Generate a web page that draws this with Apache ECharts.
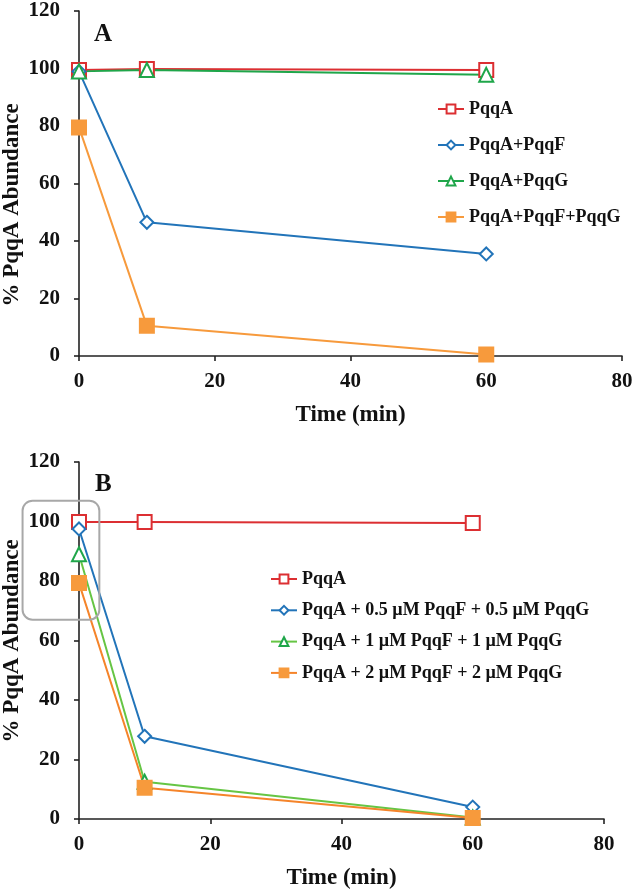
<!DOCTYPE html>
<html>
<head>
<meta charset="utf-8">
<script src="https://cdn.jsdelivr.net/npm/echarts@6/dist/echarts.min.js"></script>
<style>
html,body{margin:0;padding:0;background:#fff;}
#chart{width:633px;height:889px;}
</style>
</head>
<body>
<div id="chart"></div>
<script>
// ---- data ----
const timePoints = [0, 10, 60];
const xTicks = [0, 20, 40, 60, 80];
const yTicks = [0, 20, 40, 60, 80, 100, 120];

const namesA = ['PqqA', 'PqqA+PqqF', 'PqqA+PqqG', 'PqqA+PqqF+PqqG'];
const a_PqqA = [99.5, 99.8, 99.5];
const a_PqqF = [99, 46.5, 35.5];
const a_PqqG = [99, 99.5, 97.8];
const a_PqqFG = [79.5, 10.5, 0.5];

const namesB = ['PqqA', 'PqqA + 0.5 µM PqqF + 0.5 µM PqqG', 'PqqA + 1 µM PqqF + 1 µM PqqG', 'PqqA + 2 µM PqqF + 2 µM PqqG'];
const b_PqqA = [99.8, 99.8, 99.5];
const b_05 = [97.5, 27.8, 4];
const b_1 = [89, 12.5, 0.5];
const b_2 = [79.3, 10.5, 0.3];

const xTitle = 'Time (min)';
const yTitle = '% PqqA Abundance';

// highlight box in panel B (data coords: [xmin, ymax], [xmax, ymin])
const boxB = [[-8.6, 107], [3.1, 67]];

const FONT = '"Liberation Serif", "Times New Roman", serif';
const RED = '#dc2f32', BLUE = '#2274b9', GREEN = '#1fa64a', ORANGE = '#f79a3c';
const LGREEN = '#66c544', ORANGE2 = '#f5842a';

function pairs(vals) { return timePoints.map((t, i) => [t, vals[i]]); }

function xAx(gi) {
  return {
    type: 'value', gridIndex: gi, min: xTicks[0], max: xTicks[xTicks.length - 1], interval: 20,
    name: xTitle, nameLocation: 'middle', nameGap: 48,
    nameTextStyle: { fontFamily: FONT, fontWeight: 'bold', fontSize: 23, color: '#111' },
    axisLine: { lineStyle: { color: '#222', width: 1.6 } },
    axisTick: { length: 5, lineStyle: { color: '#222', width: 1.6 } },
    axisLabel: { fontFamily: FONT, fontWeight: 'bold', fontSize: 21, color: '#111', margin: 15 },
    splitLine: { show: false }
  };
}
function yAx(gi) {
  return {
    type: 'value', gridIndex: gi, min: yTicks[0], max: yTicks[yTicks.length - 1], interval: 20,
    axisLine: { show: true, lineStyle: { color: '#222', width: 1.6 } },
    axisTick: { show: true, length: 5, lineStyle: { color: '#222', width: 1.6 } },
    axisLabel: { fontFamily: FONT, fontWeight: 'bold', fontSize: 21, color: '#111', margin: 19 },
    splitLine: { show: false }
  };
}
function ser(name, vals, gi, symbol, lineColor, markColor, size) {
  return {
    type: 'line', name: name, xAxisIndex: gi, yAxisIndex: gi,
    data: pairs(vals), symbol: symbol, symbolSize: size || 14,
    lineStyle: { color: lineColor, width: 2 },
    itemStyle: { color: markColor, borderColor: markColor, borderWidth: 2 },
    emphasis: { disabled: true }, animation: false
  };
}
const legendText = { fontFamily: FONT, fontWeight: 'bold', fontSize: 18, color: '#111', lineHeight: 18 };

const chart = echarts.init(document.getElementById('chart'), null, { renderer: 'canvas' });
chart.setOption({
  animation: false,
  backgroundColor: '#fff',
  grid: [
    { left: 79, right: 11, top: 11, bottom: 533, outerBoundsMode: 'none', containLabel: false },
    { left: 79, right: 29, top: 462, bottom: 70, outerBoundsMode: 'none', containLabel: false }
  ],
  xAxis: [xAx(0), xAx(1)],
  yAxis: [yAx(0), yAx(1)],
  legend: [
    { data: namesA, orient: 'vertical', left: 437, top: 100, padding: 0, itemWidth: 26, itemHeight: 11, itemGap: 18,
      textStyle: legendText, selectedMode: false },
    { data: namesB, orient: 'vertical', left: 270, top: 570, padding: 0, itemWidth: 26, itemHeight: 11, itemGap: 13.3,
      textStyle: legendText, selectedMode: false }
  ],
  series: [
    ser(namesA[0], a_PqqA, 0, 'emptyRect', RED, RED),
    ser(namesA[1], a_PqqF, 0, 'emptyDiamond', BLUE, BLUE, 13),
    ser(namesA[2], a_PqqG, 0, 'emptyTriangle', GREEN, GREEN),
    ser(namesA[3], a_PqqFG, 0, 'rect', ORANGE, ORANGE),
    ser(namesB[0], b_PqqA, 1, 'emptyRect', RED, RED),
    ser(namesB[1], b_05, 1, 'emptyDiamond', BLUE, BLUE, 13),
    ser(namesB[2], b_1, 1, 'emptyTriangle', LGREEN, GREEN),
    ser(namesB[3], b_2, 1, 'rect', ORANGE2, ORANGE)
  ]
});

const p1 = chart.convertToPixel({ gridIndex: 1 }, boxB[0]);
const p2 = chart.convertToPixel({ gridIndex: 1 }, boxB[1]);
const yNameStyle = { text: yTitle, font: 'bold 23px ' + FONT, fill: '#111', align: 'center', verticalAlign: 'middle' };
chart.setOption({
  graphic: [
    { type: 'text', left: 94, top: 22, style: { text: 'A', font: 'bold 25px ' + FONT, fill: '#111' } },
    { type: 'text', left: 95, top: 472, style: { text: 'B', font: 'bold 25px ' + FONT, fill: '#111' } },
    { type: 'text', x: 12, y: 205, rotation: Math.PI / 2, style: yNameStyle },
    { type: 'text', x: 12, y: 641, rotation: Math.PI / 2, style: yNameStyle },
    { type: 'rect', shape: { x: p1[0], y: p1[1], width: p2[0] - p1[0], height: p2[1] - p1[1], r: 10 },
      style: { fill: 'none', stroke: '#a8a8a8', lineWidth: 2 }, z: 10 }
  ]
});
</script>
</body>
</html>
